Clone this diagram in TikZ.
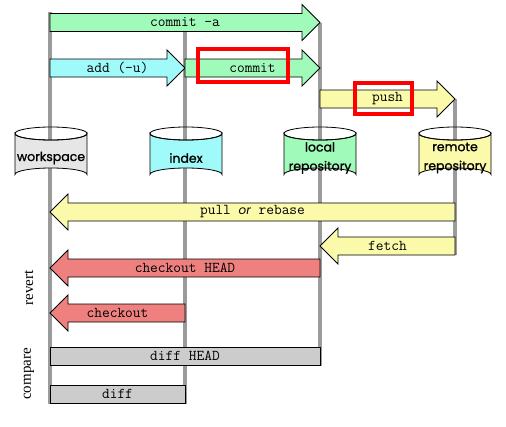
\documentclass[tikz,border=0pt]{standalone}
\usepackage{fontspec}
\setmainfont{Liberation Serif}
\setsansfont{Poppins}[FakeBold=1.2]
\newfontfamily\orfont{Poppins}
\definecolor{cgreen}{RGB}{160,250,185}
\definecolor{ccyan}{RGB}{160,250,250}
\definecolor{cyellow}{RGB}{250,250,170}
\definecolor{cred}{RGB}{238,128,128}
\definecolor{cgrayb}{RGB}{204,204,204}
\definecolor{cws}{RGB}{230,230,230}
\definecolor{clane}{RGB}{155,155,155}
\tikzset{
  lane/.style={draw=clane,line width=3.5pt},
  arrbox/.style={draw=black,line width=0.8pt,line join=miter},
  lbl/.style={font=\ttfamily\fontsize{15}{16}\selectfont,inner sep=0pt},
  cyl/.style={draw=black,line width=0.8pt},
  cyltext/.style={font=\sffamily\fontsize{12.5}{19}\selectfont,align=center,inner sep=0pt},
  hl/.style={draw=red,line width=3.5pt,inner sep=0pt},
  side/.style={rotate=90,font=\rmfamily\fontsize{15}{16}\selectfont,inner sep=0pt}
}
\newcommand{\rarr}[6]{%
  \draw[arrbox,fill=#4] (#1,#3-9) -- (#2-18,#3-9) -- (#2-18,#3-18) -- (#2,#3) -- (#2-18,#3+18) -- (#2-18,#3+9) -- (#1,#3+9) -- cycle;
  \node[lbl] (#6) at ({(#1+#2)/2},#3) {#5};}
\newcommand{\larr}[6]{%
  \draw[arrbox,fill=#4] (#2,#3-9) -- (#1+18,#3-9) -- (#1+18,#3-18) -- (#1,#3) -- (#1+18,#3+18) -- (#1+18,#3+9) -- (#2,#3+9) -- cycle;
  \node[lbl] (#6) at ({(#1+#2)/2},#3) {#5};}
\newcommand{\cylinder}[4]{%
  \filldraw[cyl,fill=#2] (#1-36,133.5) -- (#1-36,174.5) arc (180:360:36 and 6.5) -- (#1+36,133.5) arc (0:180:36 and 6.5) -- cycle;
  \draw[cyl] (#1,133.5) ellipse (36 and 6.5);
  \node[cyltext] (#4) at (#1,158) {#3};}
\begin{document}
\begin{tikzpicture}[x=1pt,y=-1pt]
\useasboundingbox (0,0) rectangle (506,426);
% lanes
\coordinate (wsT) at (50,12);   \coordinate (wsB) at (50,404);
\coordinate (ixT) at (185,22);  \coordinate (ixB) at (185,404);
\coordinate (lcT) at (320,23);  \coordinate (lcB) at (320,366);
\coordinate (rmT) at (455,99);  \coordinate (rmB) at (455,255);
\draw[lane] (wsT) -- (wsB);
\draw[lane] (ixT) -- (ixB);
\draw[lane] (lcT) -- (lcB);
\draw[lane] (rmT) -- (rmB);
% cylinders
\cylinder{51}{cws}{workspace}{ws}
\cylinder{186}{ccyan}{index}{ix}
\cylinder{320}{cgreen}{local\\repository}{lc}
\cylinder{455}{cyellow}{remote\\repository}{rm}
% arrows
\rarr{50}{320}{22.5}{cgreen}{commit -a}{commita}
\rarr{50}{185}{68}{ccyan}{add (-u)}{add}
\rarr{185}{320}{68}{cgreen}{commit}{commit}
\rarr{320}{455}{99}{cyellow}{push}{push}
\larr{50}{455}{212}{cyellow}{pull {\orfont\itshape\fontsize{12}{14}\selectfont or} rebase}{pull}
\larr{320}{455}{246}{cyellow}{fetch}{fetch}
\larr{50}{320}{268}{cred}{checkout HEAD}{cohead}
\larr{50}{185}{313}{cred}{checkout}{co}
% diff boxes
\draw[arrbox,fill=cgrayb] (50,347) rectangle (320,365);
\node[lbl] (diffhead) at (185,356) {diff HEAD};
\draw[arrbox,fill=cgrayb] (50,385) rectangle (185,403);
\node[lbl] (diff) at (117.5,394) {diff};
% highlights
\node[hl,minimum width=90pt,minimum height=33pt] (hlcommit) at (243,65.5) {};
\node[hl,minimum width=57pt,minimum height=31pt] (hlpush) at (383.5,98.5) {};
% side labels
\node[side] (revert) at (29,288) {revert};
\node[side] (compare) at (29,374) {compare};
\end{tikzpicture}
\end{document}
